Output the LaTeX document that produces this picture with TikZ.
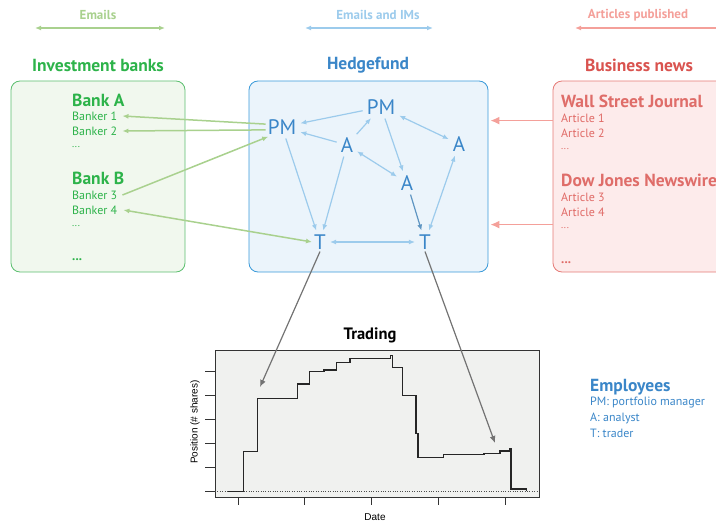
\documentclass[tikz,border=0pt]{standalone}
\usepackage{fontspec}
\setmainfont{PT Sans}
\setsansfont{Liberation Sans}
\usetikzlibrary{positioning,calc,arrows.meta}

\definecolor{bankgreen}{HTML}{2DB34A}
\definecolor{banklight}{HTML}{A9D18E}
\definecolor{bankline}{HTML}{5CBF6F}
\definecolor{bankfill}{HTML}{F1F8EE}
\definecolor{hfblue}{HTML}{3A86C8}
\definecolor{hflight}{HTML}{9CCBEC}
\definecolor{hfline}{HTML}{3A9AD9}
\definecolor{hffill}{HTML}{EBF4FB}
\definecolor{hfdark}{HTML}{5E95C2}
\definecolor{newsred}{HTML}{D9534F}
\definecolor{newstext}{HTML}{E06A66}
\definecolor{newslight}{HTML}{F4A09A}
\definecolor{newsline}{HTML}{E57A76}
\definecolor{newsfill}{HTML}{FDEBEB}
\definecolor{plotfill}{HTML}{F0F1EF}

\tikzset{
  group/.style={font=\bfseries\fontsize{17.5}{17.5}\selectfont},
  legend/.style={font=\bfseries\fontsize{13}{13}\selectfont},
  unit/.style={draw, rounded corners=9pt, line width=0.8pt, minimum width=174pt, minimum height=191pt, inner sep=0pt},
  firm/.style={font=\bfseries\fontsize{17.5}{17.5}\selectfont, anchor=west, inner sep=0pt},
  person/.style={font=\fontsize{12}{12}\selectfont, anchor=west, inner sep=0pt},
  more/.style={font=\fontsize{10}{10}\selectfont, anchor=west, inner sep=0pt},
  emp/.style={text=hfblue, font=\fontsize{21}{21}\selectfont, inner sep=2pt},
  tip/.style={-{Latex[length=6pt,width=5pt]}},
  both/.style={{Latex[length=6pt,width=5pt]}-{Latex[length=6pt,width=5pt]}},
  mail/.style={draw=banklight, line width=1.5pt},
  chat/.style={draw=hflight, line width=1.2pt, shorten <=2pt, shorten >=2pt},
  press/.style={draw=newslight, line width=1.5pt, -{Latex[length=9pt,width=8pt]}},
  trade/.style={draw=black!55, line width=1.2pt, -{Latex[length=7pt,width=6pt]}}
}

\begin{document}
\begin{tikzpicture}[x=1pt,y=-1pt]
  \useasboundingbox (0,0) rectangle (716,525);

  % Legend of links
  \node[legend, text=banklight] (lgmail) at (98,15) {Emails};
  \node[legend, text=hflight] (lgchat) at (378,15) {Emails and IMs};
  \node[legend, text=newslight] (lgpress) at (638,15) {Articles published};
  \draw[banklight, line width=1.3pt, both] (35,28) -- (165,28);
  \draw[hflight, line width=1.3pt, both] (305,28) -- (433,28);
  \draw[newslight, line width=1.3pt, tip] (716,28) -- (575,28);

  % Group titles
  \node[group, text=bankgreen] (tbanks) at (98,65) {Investment banks};
  \node[group, text=hfblue] (thedge) at (368,65) {Hedgefund};
  \node[group, text=newsred] (tnews) at (639,65) {Business news};

  % Boxes
  \node[unit, draw=bankline, fill=bankfill] (banks) at (98,176.5) {};
  \node[unit, draw=hfline, fill=hffill, minimum width=239pt] (hedge) at (368.5,176.5) {};
  \node[unit, draw=newsline, fill=newsfill] (news) at (640,176.5) {};

  % Banks
  \begin{scope}[text=bankgreen]
    \node[firm] (bankA) at (72,100) {Bank A};
    \node[person] (bk1) at (72,116) {Banker 1};
    \node[person] (bk2) at (72,131) {Banker 2};
    \node[more] (bkdA) at (72,147) {...};
    \node[firm] (bankB) at (72,178) {Bank B};
    \node[person] (bk3) at (72,195) {Banker 3};
    \node[person] (bk4) at (72,210) {Banker 4};
    \node[more] (bkdB) at (72,226) {...};
    \node[more, font=\bfseries\fontsize{13}{13}\selectfont] (bkd) at (72,260) {...};
  \end{scope}

  % News
  \begin{scope}[text=newstext]
    \node[firm, text=newsred!85] (wsj) at (561,101) {Wall Street Journal};
    \node[person] (ar1) at (561,118) {Article 1};
    \node[person] (ar2) at (561,133) {Article 2};
    \node[more] (ardA) at (561,149) {...};
    \node[firm, text=newsred!85] (dj) at (561,180) {Dow Jones Newswire};
    \node[person] (ar3) at (561,197) {Article 3};
    \node[person] (ar4) at (561,212) {Article 4};
    \node[more] (ardB) at (561,228) {...};
    \node[more, font=\bfseries\fontsize{13}{13}\selectfont] (ard) at (561,263) {...};
  \end{scope}

  % Employees
  \node[emp] (pm1) at (282,127) {PM};
  \node[emp] (pm2) at (381,107) {PM};
  \node[emp] (a1) at (347,145) {A};
  \node[emp] (a2) at (459,144) {A};
  \node[emp] (a3) at (407,183) {A};
  \node[emp] (t1) at (320,242) {T};
  \node[emp] (t2) at (425,242) {T};

  % Links inside the hedgefund
  \draw[chat, tip] (pm2) -- (pm1);
  \draw[chat, tip] (a1) -- (pm1);
  \draw[chat, tip] (a1) -- (pm2);
  \draw[chat, both] (pm2) -- (a2);
  \draw[chat, tip] (pm2) -- (a3);
  \draw[chat, both] (a1) -- (a3);
  \draw[chat, tip] (pm1) -- (t1);
  \draw[chat, tip] (a1) -- (t1);
  \draw[chat, tip, draw=hfdark] (a3) -- (t2);
  \draw[chat, both] (a2) -- (t2);
  \draw[chat, both] (t1) -- (t2);

  % Emails with the banks
  \draw[mail, tip] (pm1.170) -- ([xshift=5pt]bk1.east);
  \draw[mail, tip] (pm1.190) -- ([xshift=5pt]bk2.east);
  \draw[mail, tip] ([xshift=5pt]bk3.east) -- (pm1.215);
  \draw[mail, both] ([xshift=6pt]bk4.east) -- (t1.west);

  % Articles
  \draw[press] ($(news.north west)+(0,40)$) -- ($(hedge.north east)+(2,40)$);
  \draw[press] ($(news.north west)+(0,144)$) -- ($(hedge.north east)+(2,144)$);

  % Trading plot
  \node[font=\bfseries\fontsize{16.5}{16.5}\selectfont] (ttrade) at (370,335) {Trading};
  \draw[black!80, fill=plotfill, line width=0.8pt] (215,350) rectangle (539,497);
  \foreach \y in {371.5,395.5,419.5,443.5,467.5,491.3}
    \draw[black!80] (205,\y) -- (215,\y);
  \foreach \x in {237.7,304.3,371,437.7,505}
    \draw[black!80] (\x,497) -- (\x,505);
  \draw[black!70, dotted] (215,491.3) -- (539,491.3);
  \node[font=\sffamily\fontsize{10}{10}\selectfont] (xlab) at (375,517) {Date};
  \node[font=\sffamily\fontsize{10}{10}\selectfont, rotate=90] (ylab) at (195,422) {Position (\# shares)};
  \draw[black!85, line width=1.3pt] (227.7,491.3) -- (243.3,491.3) -- (243.3,451.7) -- (257.3,451.7)
    -- (257.3,398.3) -- (297.3,398.3) -- (297.3,384) -- (309.3,384) -- (309.3,371.7) -- (324,371.7)
    -- (324,370) -- (336.7,370) -- (336.7,362.7) -- (350,362.7) -- (350,358.3) -- (390.7,358.3)
    -- (390.7,355.3) -- (392.7,355.3) -- (392.7,367.7) -- (402.7,367.7) -- (402.7,395.3) -- (416,395.3)
    -- (416,433.3) -- (418,433.3) -- (418,457.3) -- (443.3,457.3) -- (443.3,454.7) -- (484,454.7)
    -- (484,453.3) -- (500,453.3) -- (500,451) -- (510,451) -- (510,449) -- (511,449) -- (511,489)
    -- (526.7,489) -- (526.7,491.3);

  % Trades
  \coordinate (buy) at (260,387);
  \coordinate (sell) at (495,443);
  \draw[trade] (t1.south) -- (buy);
  \draw[trade] (t2.south) -- (sell);

  % Employees legend
  \begin{scope}[text=hfblue]
    \node[firm] (lgemp) at (590,387) {Employees};
    \node[person] (lgpm) at (590,403) {PM: portfolio manager};
    \node[person] (lga) at (590,418) {A: analyst};
    \node[person] (lgt) at (590,433) {T: trader};
  \end{scope}
\end{tikzpicture}
\end{document}
